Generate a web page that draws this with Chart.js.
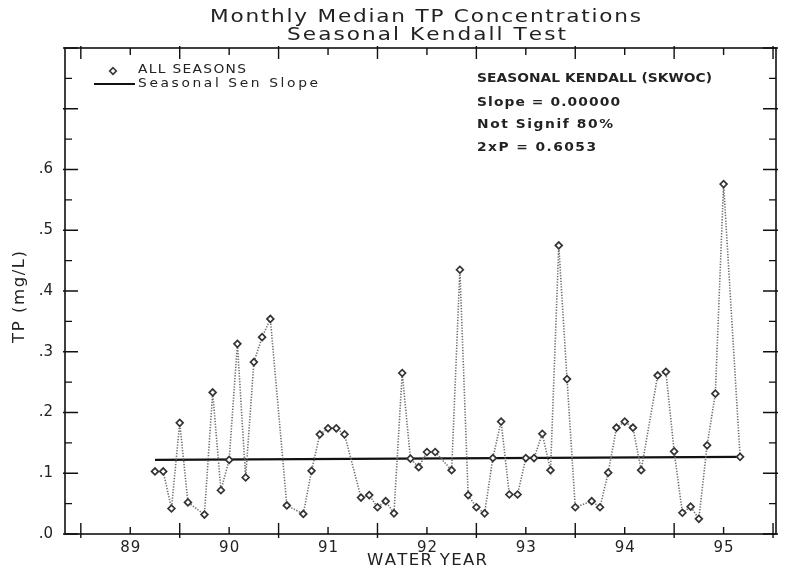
<!DOCTYPE html>
<html>
<head>
<meta charset="utf-8">
<script src="https://cdn.jsdelivr.net/npm/chart.js@4.4.1/dist/chart.umd.min.js"></script>
<style>
  html, body { margin: 0; padding: 0; background: #fff; }
  #wrap { width: 787px; height: 573px; }
</style>
</head>
<body>
<div id="wrap"><canvas id="tpChart" width="787" height="573"></canvas></div>
<script>
// monthly medians, months counted from the first sample (gaps = missing months)
const monthIndex = [0, 1, 2, 3, 4, 6, 7, 8, 9, 10, 11, 12, 13, 14, 16, 18, 19, 20, 21, 22, 23,
    25, 26, 27, 28, 29, 30, 31, 32, 33, 34, 36, 37, 38, 39, 40, 41, 42, 43, 44, 45, 46, 47,
    48, 49, 50, 51, 53, 54, 55, 56, 57, 58, 59, 61, 62, 63, 64, 65, 66, 67, 68, 69, 71];
const tpValues = [0.103, 0.103, 0.042, 0.183, 0.052, 0.032, 0.233, 0.072, 0.122, 0.313, 0.093,
    0.283, 0.324, 0.354, 0.047, 0.033, 0.104, 0.164, 0.174, 0.174, 0.164, 0.060, 0.064, 0.044,
    0.054, 0.034, 0.265, 0.124, 0.110, 0.135, 0.135, 0.105, 0.435, 0.064, 0.044, 0.034, 0.125,
    0.185, 0.065, 0.065, 0.125, 0.125, 0.165, 0.105, 0.475, 0.255, 0.044, 0.054, 0.044, 0.101,
    0.175, 0.185, 0.175, 0.105, 0.261, 0.267, 0.136, 0.035, 0.045, 0.025, 0.146, 0.231, 0.576, 0.127];
const firstMonth = 89.25;
const senMonths = [0, 71];
const senValues = [0.122, 0.127];

const yearLabels = [89, 90, 91, 92, 93, 94, 95];
const yearBounds = [88.5, 89.5, 90.5, 91.5, 92.5, 93.5, 94.5, 95.5];
const yTicks = [0, 0.1, 0.2, 0.3, 0.4, 0.5, 0.6];

const toYear = m => firstMonth + m / 12;
const tpPoints = monthIndex.map((m, i) => ({ x: toYear(m), y: tpValues[i] }));
const senPoints = senMonths.map((m, i) => ({ x: toYear(m), y: senValues[i] }));

const FONT = '"DejaVu Sans", sans-serif';
const INK = '#222';

// plotter-style text: glyphs widened and placed one by one to fill a given width
function spacedText(ctx, text, x, y, w, font, sx) {
    sx = sx || 1.15;
    ctx.save();
    ctx.font = font;
    const chars = Array.from(text);
    const widths = chars.map(ch => ctx.measureText(ch).width);
    const base = widths.reduce((s, v) => s + v, 0);
    let sp = (w / sx - base) / (chars.length - 1);
    if (sp < 0) sp = 0;
    ctx.translate(x, y);
    ctx.scale(sx, 1);
    ctx.textAlign = 'left';
    ctx.textBaseline = 'middle';
    let cx = 0;
    chars.forEach((ch, i) => {
        ctx.fillText(ch, cx, 0);
        cx += widths[i] + sp;
    });
    ctx.restore();
}

// centred short label, also drawn char by char
function centredText(ctx, text, cx, cy, font, gap) {
    ctx.save();
    ctx.font = font;
    const chars = Array.from(text);
    const widths = chars.map(ch => ctx.measureText(ch).width);
    const total = widths.reduce((s, v) => s + v, 0) + gap * (chars.length - 1);
    ctx.textAlign = 'left';
    ctx.textBaseline = 'middle';
    let x = cx - total / 2;
    chars.forEach((ch, i) => {
        ctx.fillText(ch, x, cy);
        x += widths[i] + gap;
    });
    ctx.restore();
}

function spacedTextV(ctx, text, cx, cy, w, font, sx) {
    ctx.save();
    ctx.translate(cx, cy);
    ctx.rotate(-Math.PI / 2);
    spacedText(ctx, text, -w / 2, 0, w, font, sx);
    ctx.restore();
}

function diamond(ctx, x, y, r) {
    ctx.beginPath();
    ctx.moveTo(x, y - r);
    ctx.lineTo(x + r, y);
    ctx.lineTo(x, y + r);
    ctx.lineTo(x - r, y);
    ctx.closePath();
    ctx.fillStyle = '#fff';
    ctx.fill();
    ctx.lineWidth = 1.6;
    ctx.strokeStyle = '#333';
    ctx.stroke();
}

const framePlugin = {
    id: 'frame',
    afterDraw(chart) {
        const ctx = chart.ctx;
        const a = chart.chartArea;
        const xs = chart.scales.x, ys = chart.scales.y;
        ctx.save();
        ctx.strokeStyle = '#111';
        ctx.lineWidth = 1.6;
        ctx.strokeRect(a.left, a.top, a.right - a.left, a.bottom - a.top);

        ctx.lineWidth = 1.4;
        ctx.beginPath();
        // y ticks, both sides, pointing in
        for (let v = 0; v <= 0.801; v += 0.05) {
            const py = ys.getPixelForValue(v);
            const major = Math.round(v * 100) % 10 === 0;
            const len = major ? 13 : 7;
            ctx.moveTo(a.left - (major ? 2 : 0), py); ctx.lineTo(a.left + len, py);
            ctx.moveTo(a.right + (major ? 2 : 0), py); ctx.lineTo(a.right - len, py);
        }
        // x ticks: tall at water-year bounds, short at labels
        yearBounds.forEach(v => {
            const px = xs.getPixelForValue(v);
            ctx.moveTo(px, a.bottom + 4); ctx.lineTo(px, a.bottom - 11);
            ctx.moveTo(px, a.top - 2); ctx.lineTo(px, a.top + 11);
        });
        yearLabels.forEach(v => {
            const px = xs.getPixelForValue(v);
            ctx.moveTo(px, a.bottom); ctx.lineTo(px, a.bottom - 7);
            ctx.moveTo(px, a.top); ctx.lineTo(px, a.top + 7);
        });
        ctx.stroke();

        // year labels under the axis, placed by the x scale
        ctx.fillStyle = INK;
        yearLabels.forEach(v => {
            centredText(ctx, String(v), xs.getPixelForValue(v), a.bottom + 14, '15px ' + FONT, 1);
        });

        // titles
        spacedText(ctx, 'Monthly Median TP Concentrations', 210, 17, 431, '18px ' + FONT, 1.2);
        spacedText(ctx, 'Seasonal Kendall Test', 287, 35, 279, '18px ' + FONT, 1.2);

        // axis titles
        spacedText(ctx, 'WATER YEAR', 367, 561, 120, '15px ' + FONT, 1.1);
        spacedTextV(ctx, 'TP (mg/L)', 20, 297, 92, '15px ' + FONT, 1.1);

        // legend
        diamond(ctx, 113, 71, 3.3);
        ctx.fillStyle = INK;
        spacedText(ctx, 'ALL SEASONS', 138, 70, 108, '12px ' + FONT, 1.15);
        ctx.beginPath();
        ctx.lineWidth = 2.2;
        ctx.strokeStyle = '#111';
        ctx.moveTo(94, 84); ctx.lineTo(135, 84);
        ctx.stroke();
        spacedText(ctx, 'Seasonal Sen Slope', 138, 84, 180, '12px ' + FONT, 1.15);

        // test results
        const bold = '600 12px ' + FONT;
        spacedText(ctx, 'SEASONAL KENDALL (SKWOC)', 477, 79, 235, bold, 1.15);
        spacedText(ctx, 'Slope = 0.00000', 477, 103, 143, bold, 1.15);
        spacedText(ctx, 'Not Signif 80%', 477, 125, 136, bold, 1.15);
        spacedText(ctx, '2xP = 0.6053', 477, 148, 119, bold, 1.15);
        ctx.restore();
    }
};

const config = {
    type: 'line',
    data: {
        datasets: [{
            label: 'ALL SEASONS',
            data: tpPoints,
            borderColor: '#6e6e6e',
            borderWidth: 1.6,
            borderDash: [1.3, 1.5],
            pointStyle: 'rectRot',
            pointRadius: 3.4,
            pointBorderWidth: 1.7,
            pointBorderColor: '#333',
            pointBackgroundColor: '#fff',
            tension: 0
        }, {
            label: 'Seasonal Sen Slope',
            data: senPoints,
            borderColor: '#111',
            borderWidth: 2.4,
            pointRadius: 0,
            tension: 0
        }]
    },
    options: {
        responsive: false,
        animation: false,
        layout: { padding: { top: 48, right: 11, left: 0, bottom: 0 } },
        plugins: {
            legend: { display: false },
            title: { display: false },
            tooltip: { enabled: false }
        },
        scales: {
            x: {
                type: 'linear',
                min: 88.34,
                max: 95.53,
                afterBuildTicks: s => { s.ticks = yearLabels.map(v => ({ value: v })); },
                afterFit: s => { s.height = 39; },
                grid: { display: false, drawTicks: false },
                border: { display: false },
                ticks: { display: false }
            },
            y: {
                min: 0,
                max: 0.8,
                afterBuildTicks: s => { s.ticks = yTicks.map(v => ({ value: v })); },
                afterFit: s => { s.width = 65; },
                grid: { display: false, drawTicks: false },
                border: { display: false },
                ticks: {
                    color: INK,
                    font: { family: FONT, size: 15 },
                    padding: 12,
                    autoSkip: false,
                    callback: v => v.toFixed(1).replace('0.', '.')
                }
            }
        }
    },
    plugins: [framePlugin]
};

const tpChart = new Chart(document.getElementById('tpChart'), config);
</script>
</body>
</html>
